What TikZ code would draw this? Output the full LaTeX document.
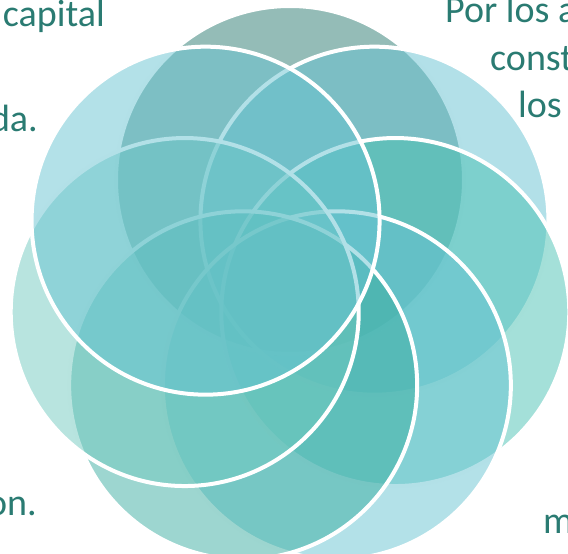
\documentclass[tikz,border=0pt]{standalone}
\usepackage{fontspec}
\setmainfont{Carlito}
\definecolor{txt}{HTML}{2A7B72}
\definecolor{cT}{HTML}{29796F}
\definecolor{cTR}{HTML}{65C1D1}
\definecolor{cR}{HTML}{49C1B3}
\definecolor{cLR}{HTML}{67C3D1}
\definecolor{cLL}{HTML}{3BADA1}
\definecolor{cL}{HTML}{71C9BF}
\definecolor{cUL}{HTML}{67C3D1}
\begin{document}
\begin{tikzpicture}[x=1pt,y=-1pt,
  petal/.style={draw=white, line width=4pt, fill opacity=0.5},
  label/.style={inner sep=0pt, text=txt, font=\fontsize{38}{46}\selectfont}]
\useasboundingbox (0,0) rectangle (568,554);
\clip (0,0) rectangle (568,554);
% seven overlapping circles on a ring around the middle
\coordinate (mid) at (290,288);
\foreach \ang/\col/\nm in {90/cT/pT, 38.57/cTR/pTR, -12.86/cR/pR, -64.29/cLR/pLR,
                          -115.71/cLL/pLL, -167.14/cL/pL, 141.43/cUL/pUL}{
  \path (mid) ++({108*cos(\ang)},{-108*sin(\ang)}) coordinate (\nm);
  \draw[petal, fill=\col] (\nm) circle (174);
}
% text around the circles
\node[label, anchor=base east] (t1) at (105,27) {capital};
\node[label, anchor=base east] (t2) at (38,131) {da.};
\node[label, anchor=base east] (t3) at (37,515) {on.};
\node[label, anchor=base west] (t4) at (445,22) {Por los a};
\node[label, anchor=base west] (t5) at (490,70) {const};
\node[label, anchor=base west] (t6) at (518,117) {los};
\node[label, anchor=base west] (t7) at (543,533) {m};
\end{tikzpicture}
\end{document}
